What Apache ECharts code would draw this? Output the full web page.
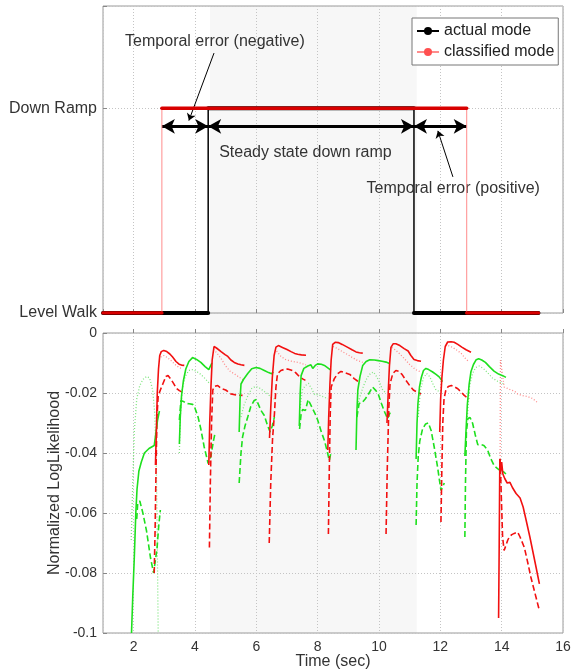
<!DOCTYPE html>
<html>
<head>
<meta charset="utf-8">
<script src="https://cdn.jsdelivr.net/npm/echarts@6/dist/echarts.min.js"></script>
<style>
  html, body { margin: 0; padding: 0; background: #fff; }
  #chart { width: 571px; height: 669px; }
</style>
</head>
<body>
<div id="chart"></div>
<script>
// top panel: mode changes (sec) and the mode held after each change
const modeLabels = ["Level Walk", "Down Ramp"];
const actualTimes = [1, 4.43, 11.14, 15.2];
const actualModes = [0, 1, 0];
const classifiedTimes = [1, 2.92, 12.86, 15.2];
const classifiedModes = [0, 1, 0];
const steadyShade = [4.49, 11.23];

// bottom panel: log likelihood segments [time, value]
const greenSolid = [
  [[1.93,-0.1],[1.97,-0.088],[2.02,-0.075],[2.07,-0.06],[2.11,-0.052],[2.17,-0.046],[2.25,-0.043],[2.35,-0.040],[2.5,-0.0385],[2.67,-0.0375],[2.72,-0.037],[2.78,-0.029],[2.84,-0.026]],
  [[3.49,-0.037],[3.52,-0.028],[3.56,-0.021],[3.62,-0.016],[3.7,-0.012],[3.8,-0.0095],[3.92,-0.0082],[4.05,-0.0088],[4.19,-0.0098],[4.33,-0.0112],[4.45,-0.0122],[4.55,-0.010]],
  [[5.44,-0.033],[5.47,-0.022],[5.5,-0.017],[5.58,-0.0155],[5.72,-0.0135],[5.85,-0.0119],[5.99,-0.0115],[6.12,-0.0118],[6.26,-0.0125],[6.4,-0.0132],[6.5,-0.0136],[6.55,-0.013]],
  [[7.40,-0.031],[7.43,-0.02],[7.46,-0.0142],[7.55,-0.0118],[7.68,-0.011],[7.78,-0.0106],[7.84,-0.0118],[7.92,-0.0108],[8.0,-0.0103],[8.12,-0.0104],[8.22,-0.0108],[8.33,-0.0116],[8.43,-0.0124]],
  [[9.25,-0.039],[9.28,-0.026],[9.31,-0.019],[9.38,-0.0145],[9.47,-0.0108],[9.58,-0.0095],[9.7,-0.0089],[9.85,-0.009],[9.98,-0.0092],[10.1,-0.0094],[10.23,-0.0097],[10.34,-0.0102]],
  [[11.21,-0.042],[11.24,-0.030],[11.27,-0.0235],[11.32,-0.018],[11.38,-0.0148],[11.45,-0.0125],[11.53,-0.0118],[11.62,-0.0122],[11.75,-0.013],[11.86,-0.0138],[11.97,-0.0147],[12.07,-0.0162]],
  [[12.8,-0.041],[12.84,-0.032],[12.88,-0.024],[12.94,-0.017],[13.0,-0.0128],[13.08,-0.0105],[13.17,-0.0089],[13.25,-0.0086],[13.35,-0.009],[13.47,-0.0098],[13.6,-0.0112],[13.75,-0.0127],[13.9,-0.0137],[14.05,-0.0143],[14.14,-0.0148]]
];
const greenDashed = [
  [[2.1,-0.062],[2.13,-0.057],[2.2,-0.056],[2.3,-0.060],[2.42,-0.066],[2.55,-0.075],[2.65,-0.080],[2.7,-0.080],[2.76,-0.072],[2.82,-0.064],[2.87,-0.059]],
  [[3.49,-0.029],[3.54,-0.0225],[3.62,-0.0228],[3.72,-0.0235],[3.81,-0.0236],[3.92,-0.0238],[3.98,-0.0245],[4.1,-0.028],[4.19,-0.032],[4.3,-0.038],[4.43,-0.0435],[4.52,-0.041],[4.6,-0.036],[4.65,-0.0336]],
  [[5.44,-0.050],[5.5,-0.04],[5.55,-0.0347],[5.63,-0.031],[5.72,-0.028],[5.82,-0.0245],[5.93,-0.0225],[6.0,-0.0222],[6.15,-0.0258],[6.26,-0.0275],[6.37,-0.031],[6.45,-0.033],[6.52,-0.031],[6.59,-0.028]],
  [[7.41,-0.032],[7.46,-0.027],[7.51,-0.0255],[7.6,-0.0258],[7.69,-0.0222],[7.75,-0.0225],[7.84,-0.0253],[7.92,-0.027],[8.0,-0.029],[8.12,-0.033],[8.22,-0.0358],[8.3,-0.039],[8.38,-0.0425],[8.43,-0.040]],
  [[9.28,-0.028],[9.35,-0.0235],[9.45,-0.0232],[9.55,-0.022],[9.65,-0.0205],[9.79,-0.018],[9.9,-0.0192],[9.98,-0.0205],[10.08,-0.0235],[10.17,-0.026],[10.28,-0.0286],[10.34,-0.027],[10.4,-0.026]],
  [[11.21,-0.064],[11.24,-0.05],[11.28,-0.041],[11.33,-0.036],[11.42,-0.032],[11.52,-0.0303],[11.61,-0.030],[11.7,-0.0325],[11.8,-0.038],[11.91,-0.0447],[12.02,-0.0525],[12.08,-0.052],[12.13,-0.050]],
  [[12.8,-0.068],[12.82,-0.05],[12.85,-0.033],[12.9,-0.0285],[12.97,-0.0282],[13.05,-0.030],[13.14,-0.034],[13.22,-0.0372],[13.32,-0.0372],[13.42,-0.0375],[13.54,-0.039],[13.65,-0.042],[13.76,-0.0443],[13.9,-0.0455],[14.03,-0.046],[14.14,-0.047]]
];
const greenDotted = [
  [[1.92,-0.069],[1.97,-0.05],[2.02,-0.033],[2.1,-0.022],[2.2,-0.0175],[2.3,-0.0155],[2.42,-0.0145],[2.52,-0.015],[2.62,-0.019],[2.69,-0.027],[2.74,-0.045],[2.77,-0.07],[2.8,-0.1]],
  [[3.49,-0.040],[3.52,-0.028],[3.58,-0.019],[3.68,-0.0145],[3.8,-0.0125],[3.92,-0.0122],[4.05,-0.0128],[4.19,-0.0138],[4.33,-0.0152],[4.47,-0.0168]],
  [[5.5,-0.028],[5.6,-0.024],[5.72,-0.021],[5.85,-0.0185],[5.97,-0.0178],[6.1,-0.0183],[6.26,-0.0195],[6.37,-0.0203],[6.48,-0.0215],[6.6,-0.022]],
  [[7.43,-0.025],[7.5,-0.019],[7.6,-0.0175],[7.7,-0.0168],[7.8,-0.0185],[7.9,-0.0205],[8.0,-0.0205],[8.12,-0.021],[8.22,-0.0214],[8.33,-0.022]],
  [[9.3,-0.024],[9.4,-0.0205],[9.5,-0.0175],[9.62,-0.0148],[9.72,-0.0135],[9.82,-0.013],[9.92,-0.0145],[10.02,-0.0165],[10.12,-0.019],[10.23,-0.020]],
  [[11.28,-0.028],[11.35,-0.019],[11.45,-0.015],[11.55,-0.0135],[11.65,-0.0145],[11.76,-0.017],[11.86,-0.019],[11.97,-0.0195],[12.07,-0.019]],
  [[12.88,-0.028],[12.95,-0.018],[13.05,-0.0135],[13.15,-0.0115],[13.27,-0.011],[13.4,-0.0118],[13.54,-0.0132],[13.7,-0.015],[13.85,-0.016],[14.03,-0.0168],[14.1,-0.017]]
];
const redSolid = [
  [[2.71,-0.044],[2.74,-0.033],[2.77,-0.02],[2.81,-0.012],[2.85,-0.0075],[2.9,-0.0062],[2.98,-0.0058],[3.08,-0.0062],[3.18,-0.007],[3.27,-0.008],[3.38,-0.0095],[3.48,-0.0104],[3.56,-0.0107],[3.65,-0.0108]],
  [[4.45,-0.044],[4.48,-0.03],[4.52,-0.018],[4.56,-0.009],[4.62,-0.0045],[4.7,-0.005],[4.85,-0.0062],[4.98,-0.0072],[5.07,-0.0078],[5.17,-0.009],[5.28,-0.0098],[5.4,-0.0103],[5.5,-0.0106],[5.61,-0.0108]],
  [[6.43,-0.035],[6.47,-0.025],[6.52,-0.015],[6.58,-0.0075],[6.64,-0.0047],[6.72,-0.0042],[6.85,-0.0048],[7.0,-0.0055],[7.13,-0.0062],[7.25,-0.0068],[7.35,-0.0071],[7.47,-0.0073],[7.62,-0.0074]],
  [[8.33,-0.039],[8.36,-0.028],[8.4,-0.017],[8.44,-0.009],[8.49,-0.0038],[8.57,-0.0031],[8.67,-0.0032],[8.8,-0.0038],[8.98,-0.0048],[9.12,-0.0056],[9.25,-0.0063],[9.36,-0.0066],[9.47,-0.0067]],
  [[10.26,-0.030],[10.3,-0.02],[10.34,-0.011],[10.39,-0.0048],[10.46,-0.0036],[10.55,-0.0036],[10.68,-0.0042],[10.82,-0.0052],[10.95,-0.006],[11.04,-0.0075],[11.14,-0.0088],[11.25,-0.0092],[11.37,-0.0094]],
  [[11.98,-0.033],[12.01,-0.022],[12.05,-0.015],[12.1,-0.009],[12.16,-0.0045],[12.24,-0.003],[12.35,-0.0029],[12.45,-0.0031],[12.57,-0.0038],[12.7,-0.0047],[12.84,-0.0056],[13.0,-0.0064]],
  [[13.9,-0.095],[13.92,-0.07],[13.94,-0.042],[13.97,-0.046],[14.0,-0.043],[14.04,-0.047],[14.1,-0.0485],[14.18,-0.050],[14.27,-0.0498],[14.35,-0.0515],[14.47,-0.0535],[14.6,-0.055],[14.7,-0.058],[14.8,-0.0625],[14.92,-0.068],[15.03,-0.0735],[15.13,-0.0785],[15.23,-0.0836]]
];
const redDashed = [
  [[2.67,-0.080],[2.7,-0.065],[2.73,-0.045],[2.76,-0.028],[2.8,-0.021],[2.87,-0.019],[2.95,-0.017],[3.05,-0.0145],[3.12,-0.0142],[3.2,-0.0152],[3.3,-0.0168],[3.4,-0.0185],[3.49,-0.0192],[3.58,-0.0197]],
  [[4.47,-0.0715],[4.5,-0.05],[4.54,-0.03],[4.58,-0.019],[4.64,-0.0178],[4.74,-0.0175],[4.85,-0.0185],[5.0,-0.019],[5.17,-0.0203],[5.35,-0.0207],[5.55,-0.0208]],
  [[6.42,-0.070],[6.47,-0.05],[6.53,-0.035],[6.59,-0.027],[6.64,-0.018],[6.69,-0.0136],[6.8,-0.0125],[6.92,-0.0121],[7.02,-0.012],[7.15,-0.0124],[7.28,-0.0132],[7.4,-0.0145],[7.51,-0.0153],[7.6,-0.0158]],
  [[8.35,-0.067],[8.38,-0.045],[8.41,-0.027],[8.44,-0.018],[8.54,-0.0153],[8.65,-0.0136],[8.76,-0.0128],[8.9,-0.0133],[9.05,-0.0138],[9.19,-0.0152],[9.3,-0.016],[9.41,-0.0164]],
  [[10.23,-0.067],[10.27,-0.045],[10.32,-0.025],[10.36,-0.017],[10.45,-0.0135],[10.55,-0.0125],[10.65,-0.0128],[10.75,-0.0138],[10.88,-0.0158],[11.0,-0.0175],[11.12,-0.019],[11.25,-0.0198],[11.37,-0.0203]],
  [[12.02,-0.063],[12.05,-0.045],[12.08,-0.030],[12.12,-0.022],[12.18,-0.019],[12.26,-0.0178],[12.36,-0.0175],[12.47,-0.018],[12.57,-0.0186],[12.68,-0.0197],[12.78,-0.0208],[12.94,-0.022]],
  [[13.95,-0.042],[13.99,-0.055],[14.03,-0.068],[14.08,-0.0725],[14.14,-0.072],[14.2,-0.069],[14.25,-0.068],[14.33,-0.0672],[14.41,-0.0668],[14.52,-0.0664],[14.6,-0.068],[14.74,-0.0715],[14.85,-0.0765],[14.95,-0.0813],[15.08,-0.0865],[15.23,-0.0925]]
];
const redDotted = [
  [[2.88,-0.008],[2.98,-0.0075],[3.1,-0.0082],[3.22,-0.0092],[3.35,-0.0105],[3.48,-0.0115],[3.6,-0.012]],
  [[4.6,-0.0055],[4.7,-0.0065],[4.85,-0.0085],[5.0,-0.011],[5.15,-0.0128],[5.28,-0.0136],[5.45,-0.0148],[5.61,-0.0158]],
  [[6.66,-0.006],[6.8,-0.0078],[6.95,-0.0088],[7.1,-0.0093],[7.25,-0.0096],[7.4,-0.0099],[7.55,-0.0104],[7.62,-0.0106]],
  [[8.5,-0.0045],[8.65,-0.0052],[8.8,-0.0062],[8.98,-0.0072],[9.15,-0.0083],[9.3,-0.0092],[9.47,-0.0098]],
  [[10.42,-0.0048],[10.55,-0.0058],[10.7,-0.0072],[10.85,-0.0088],[11.0,-0.0105],[11.15,-0.0118],[11.25,-0.0125],[11.37,-0.013]],
  [[12.26,-0.0042],[12.4,-0.0048],[12.55,-0.0058],[12.68,-0.0068],[12.82,-0.0085],[12.94,-0.0097]],
  [[13.95,-0.042],[13.96,-0.009],[13.99,-0.0095],[14.03,-0.014],[14.08,-0.018],[14.2,-0.0185],[14.3,-0.019],[14.41,-0.0193],[14.52,-0.0203],[14.65,-0.0208],[14.85,-0.0212],[15.0,-0.0218],[15.17,-0.0232]]
];

const FONT = "Liberation Sans, Arial, sans-serif";
const TXT = "#333";
const gridLine = { show: true, lineStyle: { color: "#c4c4c4", type: [1, 2], width: 1 } };
const ticks = { show: true, inside: true, length: 4, lineStyle: { color: "#888" } };

// step path: one point at each end of every held mode
function stepPath(times, modes) {
  const pts = [];
  modes.forEach((m, i) => {
    pts.push([times[i], m], [times[i + 1], m]);
  });
  return pts;
}
// only the flat parts, broken between them
function flatParts(times, modes) {
  return modes.map((m, i) => [[times[i], m], [times[i + 1], m]]);
}

const series = [];

// shaded steady state band, spanning both panels
series.push({
  type: "line", xAxisIndex: 2, yAxisIndex: 2, data: [], z: 0, silent: true,
  markArea: {
    silent: true, z: 0,
    itemStyle: { color: "#f7f7f7" },
    data: [[{ xAxis: steadyShade[0] }, { xAxis: steadyShade[1] }]]
  }
});

// top panel modes
series.push({
  name: "actual mode", type: "line", xAxisIndex: 0, yAxisIndex: 0,
  data: stepPath(actualTimes, actualModes),
  symbol: "circle", symbolSize: 4, showSymbol: false,
  lineStyle: { color: "#000", width: 1.5 }, itemStyle: { color: "#000" }, z: 4
});
flatParts(actualTimes, actualModes).forEach(seg => {
  series.push({
    name: "actual mode", type: "line", xAxisIndex: 0, yAxisIndex: 0, data: seg,
    showSymbol: false, lineStyle: { color: "#000", width: 4, cap: "round" }, z: 4
  });
});
series.push({
  name: "classified mode", type: "line", xAxisIndex: 0, yAxisIndex: 0,
  data: stepPath(classifiedTimes, classifiedModes),
  symbol: "circle", symbolSize: 2, showSymbol: false,
  lineStyle: { color: "#ff8c8c", width: 1 }, itemStyle: { color: "#ff5050" }, z: 5
});
flatParts(classifiedTimes, classifiedModes).forEach(seg => {
  series.push({
    name: "classified mode", type: "line", xAxisIndex: 0, yAxisIndex: 0, data: seg,
    showSymbol: false, lineStyle: { color: "#d80000", width: 3.5, cap: "round" }, z: 5
  });
});

// annotations in the top panel
const arrowY = 0.912;
const thick = { color: "#000", width: 3, type: "solid" };
const thin = { color: "#000", width: 1, type: "solid" };
series.push({
  type: "line", xAxisIndex: 0, yAxisIndex: 0, data: [], z: 6, silent: true,
  markLine: {
    silent: true, animation: false, label: { show: false }, symbolSize: [11, 13],
    data: [
      [{ coord: [classifiedTimes[1], arrowY], symbol: "arrow", lineStyle: thick }, { coord: [actualTimes[1], arrowY], symbol: "arrow" }],
      [{ coord: [actualTimes[1], arrowY], symbol: "arrow", lineStyle: thick }, { coord: [actualTimes[2], arrowY], symbol: "arrow" }],
      [{ coord: [actualTimes[2], arrowY], symbol: "arrow", lineStyle: thick }, { coord: [classifiedTimes[2], arrowY], symbol: "arrow" }],
      [{ coord: [4.62, 1.27], symbol: "none", lineStyle: thin }, { coord: [3.8, 0.94], symbol: "arrow", symbolSize: 7 }],
      [{ coord: [12.41, 0.665], symbol: "none", lineStyle: thin }, { coord: [11.92, 0.89], symbol: "arrow", symbolSize: 7 }]
    ]
  },
  markPoint: {
    silent: true, animation: false, symbol: "rect", symbolSize: 1,
    itemStyle: { color: "transparent" },
    label: { show: true, position: "inside", formatter: "{b}", color: TXT, fontSize: 16, fontFamily: FONT },
    data: [
      { name: "Temporal error (negative)", coord: [4.65, 1.325] },
      { name: "Steady state down ramp", coord: [7.6, 0.785] },
      { name: "Temporal error (positive)", coord: [12.42, 0.61] }
    ]
  }
});

// bottom panel curves
function addCurves(segs, color, width, dash) {
  segs.forEach(seg => {
    series.push({
      type: "line", xAxisIndex: 1, yAxisIndex: 1, data: seg, showSymbol: false,
      silent: true, z: 4, lineStyle: { color: color, width: width, type: dash }
    });
  });
}
addCurves(greenDotted, "#7fe67f", 1.3, [1, 2]);
addCurves(redDotted, "#ff8a8a", 1.3, [1, 2]);
addCurves(greenDashed, "#1ee01e", 1.6, [6, 3]);
addCurves(redDashed, "#f21010", 1.6, [6, 3]);
addCurves(greenSolid, "#1ee01e", 1.6, "solid");
addCurves(redSolid, "#f21010", 1.6, "solid");

const option = {
  animation: false,
  textStyle: { fontFamily: FONT },
  legend: {
    data: ["actual mode", "classified mode"],
    orient: "vertical", left: 412, top: 18, z: 10,
    padding: [5, 4, 5, 4], itemGap: 5, itemWidth: 22, itemHeight: 10,
    backgroundColor: "#fff", borderColor: "#777", borderWidth: 1, borderRadius: 0,
    textStyle: { fontSize: 16, color: "#222", fontFamily: FONT }
  },
  grid: [
    { left: 103, top: 6, width: 460, height: 307, show: true, z: 3, outerBoundsMode: "none",
      borderColor: "#9a9a9a", borderWidth: 1, backgroundColor: "transparent" },
    { left: 103, top: 333, width: 460, height: 300, show: true, z: 3, outerBoundsMode: "none",
      borderColor: "#9a9a9a", borderWidth: 1, backgroundColor: "transparent" },
    { left: 103, top: 6, width: 460, height: 627, show: false, outerBoundsMode: "none" }
  ],
  xAxis: [
    { gridIndex: 0, type: "value", min: 1, max: 16, splitNumber: 7, z: 3,
      axisLine: { show: false }, axisTick: ticks, axisLabel: { show: false }, splitLine: gridLine },
    { gridIndex: 1, type: "value", min: 1, max: 16, splitNumber: 7, z: 3,
      axisLine: { show: false }, axisTick: ticks, splitLine: gridLine,
      axisLabel: { showMinLabel: false, fontSize: 14, color: TXT, margin: 7 },
      name: "Time (sec)", nameLocation: "middle", nameGap: 21, nameMoveOverlap: false,
      nameTextStyle: { fontSize: 16, color: TXT } },
    { gridIndex: 2, type: "value", min: 1, max: 16, show: false }
  ],
  yAxis: [
    { gridIndex: 0, type: "value", min: 0, max: 1.5, interval: 1, z: 3,
      axisLine: { show: false }, axisTick: ticks, splitLine: gridLine,
      axisLabel: { fontSize: 16, color: TXT, margin: 6, formatter: v => modeLabels[v] || "" } },
    { gridIndex: 1, type: "value", min: -0.1, max: 0, interval: 0.02, z: 3,
      axisLine: { show: false }, axisTick: ticks, splitLine: gridLine,
      axisLabel: { fontSize: 14, color: TXT, margin: 6, formatter: v => (v === 0 ? "0" : String(+v.toFixed(2))) },
      name: "Normalized LogLikelihood", nameLocation: "middle", nameGap: 40, nameMoveOverlap: false,
      nameTextStyle: { fontSize: 16, color: TXT } },
    { gridIndex: 2, type: "value", min: 0, max: 1, show: false }
  ],
  series: series
};

const myChart = echarts.init(document.getElementById("chart"), null, { renderer: "canvas" });
myChart.setOption(option);
</script>
</body>
</html>
